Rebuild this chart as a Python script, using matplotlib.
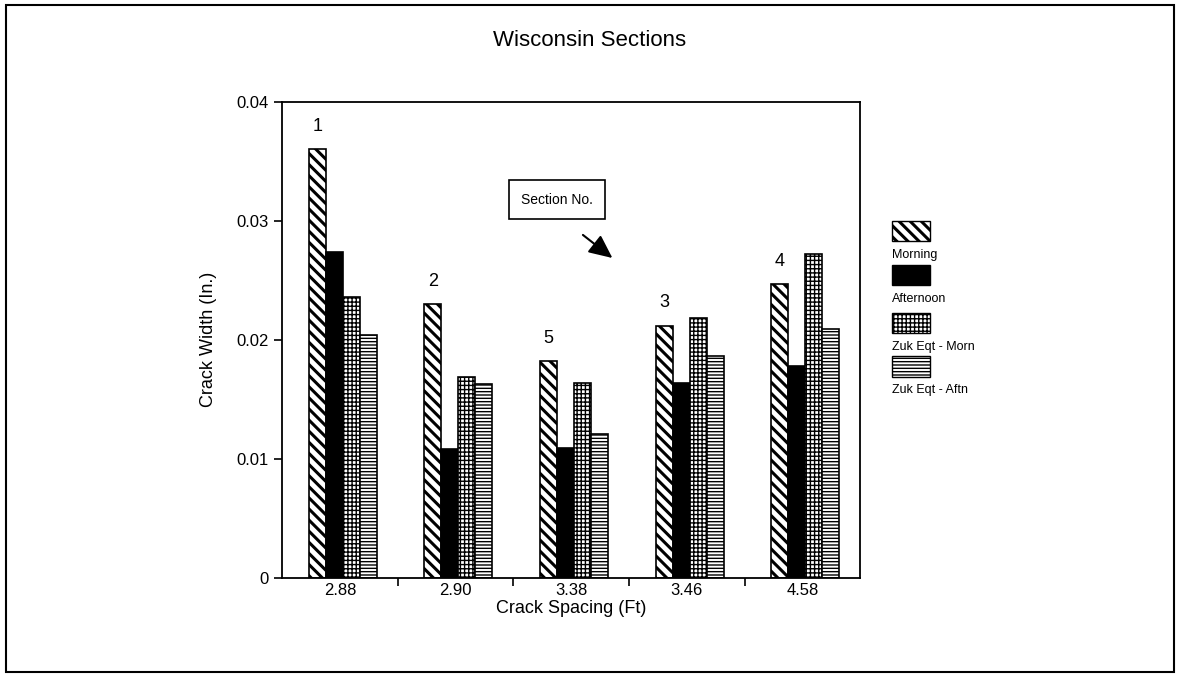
import matplotlib
matplotlib.use('Agg')
from matplotlib import pyplot as plt
from matplotlib.patches import Rectangle
import numpy as np

# datos
categorias = ['2.88', '2.90', '3.38', '3.46', '4.58']
secciones = ['1', '2', '5', '3', '4']
morning = [0.0360, 0.0230, 0.0182, 0.0212, 0.0247]
afternoon = [0.0274, 0.0108, 0.0109, 0.0164, 0.0178]
zuk_morn = [0.0236, 0.0169, 0.0164, 0.0218, 0.0272]
zuk_aftn = [0.0204, 0.0163, 0.0121, 0.0186, 0.0209]

series = [morning, afternoon, zuk_morn, zuk_aftn]
nombres = ['Morning', 'Afternoon', 'Zuk Eqt - Morn', 'Zuk Eqt - Aftn']
# estilo de cada serie: (color de relleno, hatch, grosor del hatch)
estilos = [('white', '\\\\\\', 2.2), ('black', '', 1.0),
           ('white', '++++', 1.0), ('white', '-----', 1.0)]

plt.rcParams['font.family'] = ['Liberation Sans', 'DejaVu Sans']

fig = plt.figure(figsize=(11.8, 6.79), dpi=100)
ax = fig.add_axes([0.239, 0.149, 0.490, 0.701])

x = np.arange(len(categorias))
w = 0.147
for k, (vals, est) in enumerate(zip(series, estilos)):
    color, hatch, hlw = est
    bars = ax.bar(x + (k - 1.5) * w + 0.025, vals, width=w, color=color,
                  edgecolor='black', linewidth=1.2, hatch=hatch, label=nombres[k])
    for b in bars:
        if hasattr(b, 'set_hatch_linewidth'):
            b.set_hatch_linewidth(hlw)

# numeros de seccion sobre la primera barra
for i, s in enumerate(secciones):
    ax.text(x[i] - 1.5 * w + 0.025, morning[i] + 0.0012, s, ha='center',
            va='bottom', fontsize=13)

ax.set_xlim(-0.5, len(categorias) - 0.5)
ax.set_ylim(0, 0.04)
ax.set_yticks([0, 0.01, 0.02, 0.03, 0.04])
ax.set_yticklabels(['0', '0.01', '0.02', '0.03', '0.04'], fontsize=12)
ax.set_xticks(x)
ax.set_xticklabels(categorias, fontsize=12)
ax.tick_params(axis='x', which='major', length=0, pad=4)
ax.set_xticks(np.arange(0.5, len(categorias) - 1, 1.0), minor=True)
ax.tick_params(axis='x', which='minor', length=6, width=1.2, direction='out')
ax.tick_params(axis='y', length=6, width=1.2, direction='out')
for sp in ax.spines.values():
    sp.set_linewidth(1.3)
ax.set_xlabel('Crack Spacing (Ft)', fontsize=13, labelpad=1)
ax.set_ylabel('Crack Width (In.)', fontsize=13, labelpad=14)

fig.text(0.5, 0.94, 'Wisconsin Sections', ha='center', va='center', fontsize=16)

# caja "Section No." con flecha
fig.text(0.472, 0.706, 'Section No.', ha='center', va='center', fontsize=10,
         bbox=dict(boxstyle='square,pad=0.9', facecolor='white', edgecolor='black', lw=1.2))
ax.annotate('', xy=(0.519, 0.620), xytext=(0.494, 0.654),
            xycoords='figure fraction', textcoords='figure fraction',
            arrowprops=dict(arrowstyle='-|>,head_length=1.3,head_width=0.6',
                            color='black', lw=1.5, mutation_scale=11,
                            shrinkA=0, shrinkB=0))

# leyenda hecha a mano
ly = [0.645, 0.580, 0.509, 0.445]
for k, (color, hatch, hlw) in enumerate(estilos):
    r = Rectangle((0.756, ly[k]), 0.032, 0.030, transform=fig.transFigure,
                  facecolor=color, edgecolor='black', hatch=hatch, lw=1.0)
    if hasattr(r, 'set_hatch_linewidth'):
        r.set_hatch_linewidth(hlw)
    fig.add_artist(r)
    fig.text(0.756, ly[k] - 0.020, nombres[k], ha='left', va='center', fontsize=9)

# borde de la figura
fig.add_artist(Rectangle((0.005, 0.01), 0.99, 0.982, transform=fig.transFigure,
                         fill=False, edgecolor='black', lw=1.5))

plt.savefig('out.png', dpi=100)
